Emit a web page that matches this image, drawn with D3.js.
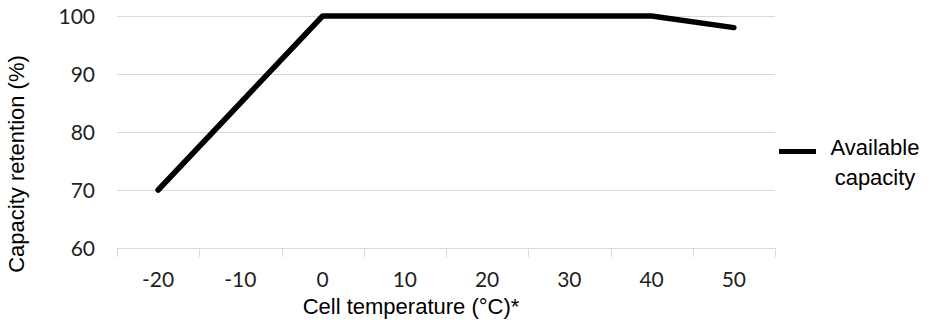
<!DOCTYPE html>
<html>
<head>
<meta charset="utf-8">
<script src="https://cdn.jsdelivr.net/npm/d3@7"></script>
<style>
  body { margin: 0; background: #fff; }
</style>
</head>
<body>
<div id="chart"></div>
<script>
var temps = ["-20", "-10", "0", "10", "20", "30", "40", "50"];
var capacity = [70, 85, 100, 100, 100, 100, 100, 98];
var yTicks = [60, 70, 80, 90, 100];
var seriesName = ["Available", "capacity"];

var W = 928, H = 322;
var margin = {top: 16, right: 153, bottom: 74, left: 117},
    width = W - margin.left - margin.right,
    height = H - margin.top - margin.bottom;

var svg = d3.select("#chart")
  .append("svg")
    .attr("width", W)
    .attr("height", H);

var g = svg.append("g")
    .attr("transform", "translate(" + margin.left + "," + margin.top + ")");

var x = d3.scaleBand()
  .domain(temps)
  .range([0, width]);

var y = d3.scaleLinear()
  .domain([60, 100])
  .range([height, 0]);

// gridlines
g.append("g")
  .selectAll("line")
  .data(yTicks)
  .enter()
  .append("line")
    .attr("x1", 0)
    .attr("x2", width)
    .attr("y1", function(d) { return Math.round(y(d)) + 0.5; })
    .attr("y2", function(d) { return Math.round(y(d)) + 0.5; })
    .style("stroke", "#d9d9d9")
    .style("stroke-width", 1);

// tick label look (Calibri-ish)
function tickStyle(sel) {
  sel.selectAll(".tick text")
    .style("font-family", "Lato, 'Open Sans', sans-serif")
    .style("font-size", "21px")
    .style("fill", "#1f1f1f");
}

// y axis labels
var yAxis = g.append("g")
  .attr("transform", "translate(-22,0)")
  .call(d3.axisLeft(y).tickValues(yTicks).tickSize(0).tickPadding(0));
yAxis.select(".domain").remove();
yAxis.selectAll("text").attr("dy", "0.36em");
tickStyle(yAxis);

// x axis: ticks between categories like Excel
var xAxis = g.append("g")
  .attr("transform", "translate(0," + height + ")");
xAxis.append("line")
  .attr("x1", 0).attr("x2", width)
  .attr("y1", 0.5).attr("y2", 0.5)
  .style("stroke", "#d9d9d9");
xAxis.selectAll(".sep")
  .data(d3.range(temps.length + 1))
  .enter()
  .append("line")
    .attr("class", "sep")
    .attr("x1", function(i) { return Math.round(i * x.step()) + 0.5; })
    .attr("x2", function(i) { return Math.round(i * x.step()) + 0.5; })
    .attr("y1", 0)
    .attr("y2", 9)
    .style("stroke", "#d9d9d9");
var xLabels = xAxis.append("g")
  .call(d3.axisBottom(x).tickSize(0).tickPadding(0));
xLabels.select(".domain").remove();
xLabels.selectAll("text").attr("y", 39).attr("dy", 0);
tickStyle(xLabels);

// line
var line = d3.line()
  .x(function(d, i) { return x(temps[i]) + x.bandwidth() / 2; })
  .y(function(d) { return y(d); });

g.append("path")
  .datum(capacity)
  .attr("d", line)
  .style("fill", "none")
  .style("stroke", "#000")
  .style("stroke-width", 5.5)
  .style("stroke-linecap", "round")
  .style("stroke-linejoin", "round");

// axis titles
svg.append("text")
  .attr("x", 411)
  .attr("y", 314)
  .attr("font-family", "'Liberation Sans', Arial, sans-serif")
  .attr("font-size", "22px")
  .attr("text-anchor", "middle")
  .attr("fill", "#000")
  .text("Cell temperature (°C)*");

svg.append("text")
  .attr("transform", "translate(24,164) rotate(-90)")
  .attr("font-family", "'Liberation Sans', Arial, sans-serif")
  .attr("font-size", "22px")
  .attr("text-anchor", "middle")
  .attr("fill", "#000")
  .text("Capacity retention (%)");

// legend
var legend = svg.append("g");
legend.append("line")
  .attr("x1", 779).attr("x2", 816)
  .attr("y1", 151.5).attr("y2", 151.5)
  .style("stroke", "#000")
  .style("stroke-width", 5);
legend.selectAll("text")
  .data(seriesName)
  .enter()
  .append("text")
    .attr("x", 875)
    .attr("y", function(d, i) { return 155 + i * 30; })
    .attr("font-family", "'Liberation Sans', Arial, sans-serif")
    .attr("font-size", "22px")
    .attr("text-anchor", "middle")
    .attr("fill", "#000")
    .text(function(d) { return d; });
</script>
</body>
</html>
